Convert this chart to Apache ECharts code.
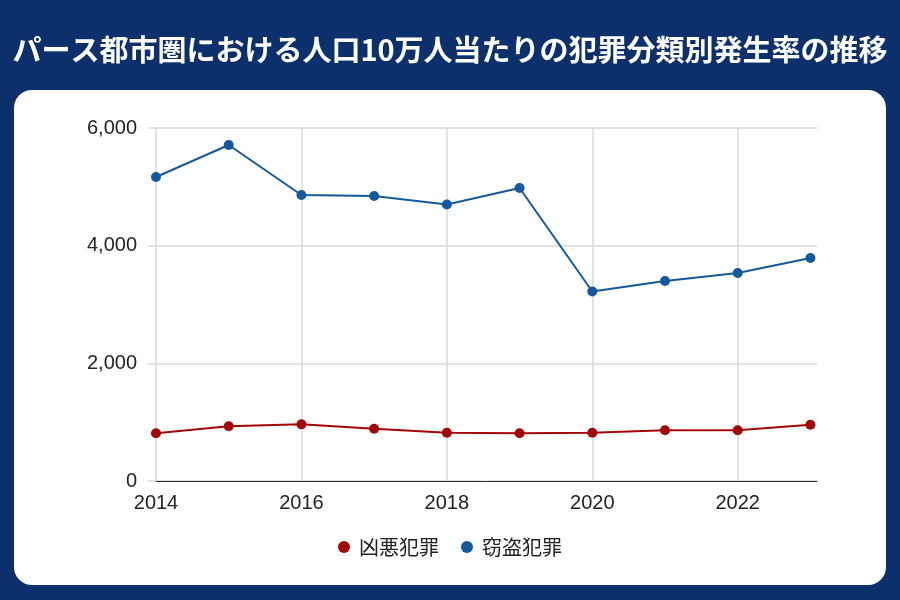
<!DOCTYPE html>
<html><head><meta charset="utf-8">
<script src="https://cdn.jsdelivr.net/npm/echarts@6/dist/echarts.min.js"></script>
<style>html,body{margin:0;padding:0;background:#0b306b}#c{width:900px;height:600px}</style>
</head><body><div id="c"></div>
<script>
const years = [2014,2015,2016,2017,2018,2019,2020,2021,2022,2023];
const violent = [811,930,963,889,821,811,821,862,862,957];
const theft = [5167,5711,4861,4844,4700,4980,3221,3399,3535,3790];
const seriesNames = ['凶悪犯罪','窃盗犯罪'];
const title = 'パース都市圏における人口10万人当たりの犯罪分類別発生率の推移';

const chart = echarts.init(document.getElementById('c'));
const font = '"Noto Sans CJK JP", "Noto Sans", sans-serif';
const numFont = '"Liberation Sans", Arial, sans-serif';
chart.setOption({
  backgroundColor: '#0b306b',
  animation: false,
  graphic: [{type:'rect', shape:{x:14,y:90,width:872,height:495,r:18}, style:{fill:'#ffffff'}, z:-10}],
  title: {text: title, left: 'center', top: 30, textStyle:{color:'#fff', fontSize:29, fontWeight:'bold', fontFamily:font}},
  legend: {bottom: 38, left:'center', icon:'circle', itemWidth:12, itemHeight:12, itemGap:22,
    textStyle:{fontSize:20, color:'#222', fontFamily:font, padding:[0,0,0,4]}, data: seriesNames},
  grid: {left:156, right:83, top:128, bottom:119},
  xAxis: {type:'value', min:2014, max:2023.09, interval:2,
    axisLine:{lineStyle:{color:'#333'}}, axisTick:{show:false},
    axisLabel:{formatter:v=>String(v), color:'#222', fontSize:20, fontFamily:numFont, margin:12, showMaxLabel:false},
    splitLine:{show:true, showMaxLine:false, lineStyle:{color:'#d9d9d9', width:1.5}}},
  yAxis: {type:'value', min:0, max:6000, interval:2000,
    axisLine:{show:false}, axisTick:{show:true, length:8, lineStyle:{color:'#d9d9d9', width:1.5}},
    axisLabel:{color:'#222', fontSize:20, fontFamily:numFont, margin:19},
    splitLine:{lineStyle:{color:'#d9d9d9', width:1.5}}},
  series: [
    {name:seriesNames[0], type:'line', data: years.map((y,i)=>[y, violent[i]]), color:'#a30808',
     symbol:'circle', symbolSize:10, lineStyle:{width:2}},
    {name:seriesNames[1], type:'line', data: years.map((y,i)=>[y, theft[i]]), color:'#14599d',
     symbol:'circle', symbolSize:10, lineStyle:{width:2}}
  ]
});
</script></body></html>
